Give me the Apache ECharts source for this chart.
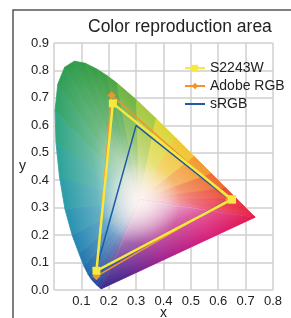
<!DOCTYPE html>
<html>
<head>
<meta charset="utf-8">
<script src="https://cdn.jsdelivr.net/npm/echarts@6/dist/echarts.min.js"></script>
<style>
html, body { margin: 0; padding: 0; background: #fff; }
#chart { width: 291px; height: 318px; }
</style>
</head>
<body>
<div id="chart"></div>
<script>
// spectral locus (CIE 1931), wavelength in nm
var locusNm = [380, 420, 430, 440, 450, 460, 465, 470, 475, 480, 485, 490, 495, 500, 505, 510, 515, 520, 525, 530, 535, 540, 550, 560, 570, 580, 590, 600, 610, 620, 640, 660, 700];
var locusX = [0.1741, 0.1714, 0.1689, 0.1644, 0.1566, 0.1440, 0.1355, 0.1241, 0.1096, 0.0913, 0.0660, 0.0400, 0.0200, 0.0070, 0.0039, 0.0139, 0.0389, 0.0743, 0.1142, 0.1547, 0.1929, 0.2296, 0.3016, 0.3731, 0.4441, 0.5125, 0.5752, 0.6270, 0.6658, 0.6915, 0.7190, 0.7300, 0.7347];
var locusY = [0.0050, 0.0051, 0.0069, 0.0109, 0.0177, 0.0297, 0.0399, 0.0578, 0.0868, 0.1327, 0.2007, 0.2950, 0.4127, 0.5384, 0.6548, 0.7502, 0.8120, 0.8338, 0.8262, 0.8059, 0.7816, 0.7543, 0.6923, 0.6245, 0.5547, 0.4866, 0.4242, 0.3725, 0.3340, 0.3083, 0.2809, 0.2700, 0.2653];
var whitePoint = [0.3127, 0.329];

// gamut triangles (closed)
var s2243wX = [0.65, 0.215, 0.155, 0.65];
var s2243wY = [0.33, 0.68, 0.07, 0.33];
var adobeX = [0.64, 0.21, 0.155, 0.64];
var adobeY = [0.33, 0.71, 0.05, 0.33];
var srgbX = [0.64, 0.30, 0.15, 0.64];
var srgbY = [0.33, 0.60, 0.06, 0.33];

var xTicks = [0, 0.1, 0.2, 0.3, 0.4, 0.5, 0.6, 0.7, 0.8];
var yTicks = [0, 0.1, 0.2, 0.3, 0.4, 0.5, 0.6, 0.7, 0.8, 0.9];

// colours along the locus
var hue = [
    [380, '#3a2a8a'], [440, '#2f3a9a'], [460, '#2650a2'], [470, '#2165aa'], [480, '#247fb2'],
    [490, '#2a98b0'], [500, '#2ea690'], [510, '#2fa05a'], [520, '#2e9b48'], [535, '#3fa043'],
    [550, '#86bd3f'], [560, '#c8d23c'], [570, '#efd935'], [580, '#f3b131'], [590, '#f0832f'],
    [600, '#ec5535'], [620, '#e62c44'], [700, '#e4194c']
];
var purple = [[0, '#e4194c'], [0.3, '#d81f7a'], [0.6, '#a2238f'], [0.85, '#55288f'], [1, '#3a2a8a']];
var centre = '#fcf6f4';

function hex(c) {
    return [parseInt(c.substr(1, 2), 16), parseInt(c.substr(3, 2), 16), parseInt(c.substr(5, 2), 16)];
}
function mix(a, b, t) {
    var p = hex(a), q = hex(b), r = [];
    for (var i = 0; i < 3; i++) r.push(Math.round(p[i] + (q[i] - p[i]) * t));
    return '#' + r.map(function (v) { return ('0' + v.toString(16)).slice(-2); }).join('');
}
function colorAt(nm) {
    for (var i = 1; i < hue.length; i++) {
        if (nm <= hue[i][0]) {
            var t = (nm - hue[i - 1][0]) / (hue[i][0] - hue[i - 1][0]);
            return mix(hue[i - 1][1], hue[i][1], t);
        }
    }
    return hue[hue.length - 1][1];
}
function foot(w, a, b) {
    var dx = b[0] - a[0], dy = b[1] - a[1];
    var t = ((w[0] - a[0]) * dx + (w[1] - a[1]) * dy) / (dx * dx + dy * dy);
    return [a[0] + t * dx, a[1] + t * dy];
}

var wedges = [];
for (var i = 0; i < locusNm.length - 1; i++) {
    wedges.push([locusX[i], locusY[i], locusX[i + 1], locusY[i + 1], locusNm[i], locusNm[i + 1]]);
}
var last = locusNm.length - 1;
var purpleLine = [[locusX[last], locusY[last], locusX[0], locusY[0]]];

function renderWedge(params, api) {
    var w = api.coord(whitePoint);
    var a = api.coord([api.value(0), api.value(1)]);
    var b = api.coord([api.value(2), api.value(3)]);
    var c = mix(colorAt(api.value(4)), colorAt(api.value(5)), 0.5);
    var f = foot(w, a, b);
    var g = new echarts.graphic.LinearGradient(w[0], w[1], f[0], f[1], [
        { offset: 0, color: centre },
        { offset: 0.55, color: mix(centre, c, 0.7) },
        { offset: 1, color: c }
    ], true);
    return {
        type: 'polygon',
        shape: { points: [w, a, b] },
        style: { fill: g, stroke: g, lineWidth: 0.8 }
    };
}

function renderPurple(params, api) {
    var w = api.coord(whitePoint);
    var a = api.coord([api.value(0), api.value(1)]);
    var b = api.coord([api.value(2), api.value(3)]);
    var f = foot(w, a, b);
    var base = new echarts.graphic.LinearGradient(a[0], a[1], b[0], b[1],
        purple.map(function (s) { return { offset: s[0], color: s[1] }; }), true);
    var fade = new echarts.graphic.LinearGradient(w[0], w[1], f[0], f[1], [
        { offset: 0, color: 'rgba(252,246,244,1)' },
        { offset: 0.55, color: 'rgba(252,246,244,0.3)' },
        { offset: 1, color: 'rgba(252,246,244,0)' }
    ], true);
    var glow = new echarts.graphic.RadialGradient(w[0], w[1] + 4, 40, [
        { offset: 0, color: 'rgba(252,244,242,0.85)' },
        { offset: 0.5, color: 'rgba(250,238,236,0.45)' },
        { offset: 1, color: 'rgba(250,238,236,0)' }
    ], true);
    return {
        type: 'group',
        children: [
            { type: 'polygon', shape: { points: [w, a, b] }, style: { fill: base, stroke: base, lineWidth: 0.8 } },
            { type: 'polygon', shape: { points: [w, a, b] }, style: { fill: fade, stroke: fade, lineWidth: 0.8 } },
            { type: 'circle', shape: { cx: w[0], cy: w[1] + 4, r: 40 }, style: { fill: glow } }
        ]
    };
}

function pts(xs, ys) {
    return xs.map(function (x, i) { return [x, ys[i]]; });
}

var font = "'Liberation Sans', Arial, sans-serif";
var myChart = echarts.init(document.getElementById('chart'));
var option = {
    animation: false,
    title: {
        text: 'Color reproduction area',
        left: 83,
        top: 13,
        textStyle: { fontSize: 17.5, fontWeight: 'normal', color: '#222', fontFamily: font }
    },
    legend: {
        data: [
            { name: 'S2243W' },
            { name: 'Adobe RGB' },
            { name: 'sRGB', itemStyle: { opacity: 0 } }
        ],
        orient: 'vertical',
        left: 179,
        top: 56,
        itemWidth: 20,
        itemHeight: 8,
        itemGap: 4,
        textStyle: { fontSize: 14, color: '#222', fontFamily: font }
    },
    graphic: [{
        type: 'rect',
        shape: { x: 13, y: 10, width: 320, height: 330 },
        style: { fill: 'none', stroke: '#555', lineWidth: 1.5 },
        silent: true
    }],
    grid: { left: 54, right: 18, top: 43, bottom: 28, containLabel: false, outerBoundsMode: 'none' },
    xAxis: {
        type: 'value',
        min: xTicks[0],
        max: xTicks[xTicks.length - 1],
        interval: 0.1,
        name: 'x',
        nameLocation: 'middle',
        nameGap: 16,
        nameMoveOverlap: false,
        nameTextStyle: { fontSize: 14, color: '#222', fontFamily: font },
        axisLine: { show: false },
        axisTick: { show: false },
        axisLabel: {
            fontSize: 13, color: '#222', fontFamily: font, margin: 5,
            formatter: function (v) { return v === 0 ? '' : v.toFixed(1); }
        },
        splitLine: { show: true, lineStyle: { color: '#cfcfcf', width: 1.5 } }
    },
    yAxis: {
        type: 'value',
        min: yTicks[0],
        max: yTicks[yTicks.length - 1],
        interval: 0.1,
        name: 'y',
        nameLocation: 'middle',
        nameRotate: 0,
        nameGap: 28,
        nameMoveOverlap: false,
        nameTextStyle: { fontSize: 14, color: '#222', fontFamily: font },
        axisLine: { show: false },
        axisTick: { show: false },
        axisLabel: {
            fontSize: 13, color: '#222', fontFamily: font, margin: 5,
            formatter: function (v) { return v.toFixed(1); }
        },
        splitLine: { show: true, lineStyle: { color: '#cfcfcf', width: 1.5 } }
    },
    series: [{
        type: 'custom',
        silent: true,
        renderItem: renderWedge,
        encode: { x: [0, 2], y: [1, 3] },
        data: wedges,
        z: 2
    }, {
        type: 'custom',
        silent: true,
        renderItem: renderPurple,
        encode: { x: [0, 2], y: [1, 3] },
        data: purpleLine,
        z: 2
    }, {
        name: 'sRGB',
        type: 'line',
        data: pts(srgbX, srgbY),
        symbol: 'none',
        lineStyle: { color: '#1f5aa6', width: 1.5 },
        itemStyle: { color: '#1f5aa6' },
        z: 3
    }, {
        name: 'Adobe RGB',
        type: 'line',
        data: pts(adobeX, adobeY),
        symbol: 'diamond',
        symbolSize: 8,
        lineStyle: { color: '#f5922b', width: 1.5 },
        itemStyle: { color: '#f5922b' },
        z: 4
    }, {
        name: 'S2243W',
        type: 'line',
        data: pts(s2243wX, s2243wY),
        symbol: 'rect',
        symbolSize: 8,
        lineStyle: { color: '#f6e83e', width: 2.5 },
        itemStyle: { color: '#f6e83e' },
        z: 5
    }]
};
myChart.setOption(option);
</script>
</body>
</html>
